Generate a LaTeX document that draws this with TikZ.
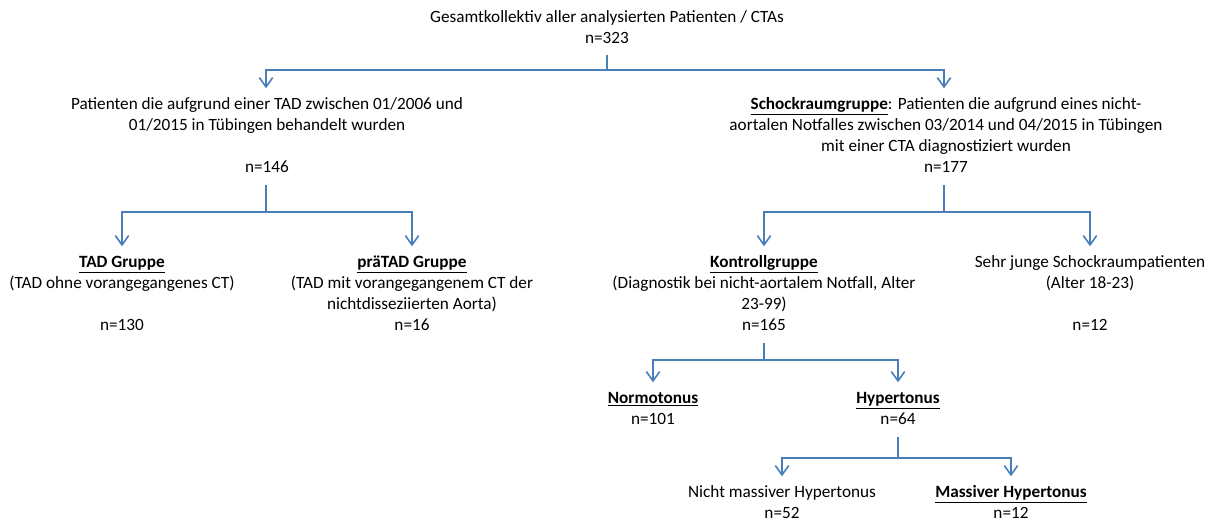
\documentclass[tikz,border=0pt]{standalone}
\usepackage{fontspec}
\setmainfont{Carlito}
\usetikzlibrary{arrows.meta}
\definecolor{lineblue}{HTML}{4A7EBB}
\newcommand{\bu}[1]{\underline{\textbf{#1}}}
\begin{document}
\begin{tikzpicture}[x=0.75pt,y=-0.75pt,
  txt/.style={anchor=north,inner sep=0pt,align=center,font=\fontsize{12.9}{15.75}\selectfont},
  conn/.style={draw=lineblue,line width=1.2pt},
  arr/.style={conn,-{Straight Barb[length=7pt,width=10pt]},shorten >=4.5pt}]
\useasboundingbox (0,0) rectangle (1215,521);

% nodes (north = first line centre - 9.7px)
\node[txt] (top) at (607,7.3) {\strut Gesamtkollektiv aller analysierten Patienten / CTAs\\ n=323};
\node[txt] (tadall) at (267,94.3) {\strut Patienten die aufgrund einer TAD zwischen 01/2006 und\\ 01/2015 in Tübingen behandelt wurden\\ \strut\\ n=146};
\node[txt] (schock) at (946,94.3) {\strut\bu{Schockraumgruppe}: Patienten die aufgrund eines nicht-\\ aortalen Notfalles zwischen 03/2014 und 04/2015 in Tübingen\\ mit einer CTA diagnostiziert wurden\\ n=177};
\node[txt] (tad) at (122,252.3) {\strut\bu{TAD Gruppe}\\ (TAD ohne vorangegangenes CT)\\ \strut\\ n=130};
\node[txt] (pretad) at (412,252.3) {\strut\bu{präTAD Gruppe}\\ (TAD mit vorangegangenem CT der\\ nichtdisseziierten Aorta)\\ n=16};
\node[txt] (kontroll) at (764,252.3) {\strut\bu{Kontrollgruppe}\\ (Diagnostik bei nicht-aortalem Notfall, Alter\\ 23-99)\\ n=165};
\node[txt] (jung) at (1090,252.3) {\strut Sehr junge Schockraumpatienten\\ (Alter 18-23)\\ \strut\\ n=12};
\node[txt] (normo) at (653,388.3) {\strut\bu{Normotonus}\\ n=101};
\node[txt] (hyper) at (898,388.3) {\strut\bu{Hypertonus}\\ n=64};
\node[txt] (nicht) at (782,482.3) {\strut Nicht massiver Hypertonus\\ n=52};
\node[txt] (massiv) at (1011,482.3) {\strut\bu{Massiver Hypertonus}\\ n=12};

% junctions
\coordinate (j0) at (607,70);
\coordinate (j1) at (266,212);
\coordinate (j2) at (944,212);
\coordinate (j3) at (764,360);
\coordinate (j4) at (898,458);

% connectors
\draw[conn] (j0 |- 0,55) -- (j0);
\draw[arr] (j0) -| (266,94.3);
\draw[arr] (j0) -| (944,94.3);

\draw[conn] (j1 |- 0,185) -- (j1);
\draw[arr] (j1) -| (tad.north);
\draw[arr] (j1) -| (pretad.north);

\draw[conn] (j2 |- 0,185) -- (j2);
\draw[arr] (j2) -| (kontroll.north);
\draw[arr] (j2) -| (jung.north);

\draw[conn] (j3 |- 0,343) -- (j3);
\draw[arr] (j3) -| (normo.north);
\draw[arr] (j3) -| (hyper.north);

\draw[conn] (j4 |- 0,437) -- (j4);
\draw[arr] (j4) -| (nicht.north);
\draw[arr] (j4) -| (massiv.north);
\end{tikzpicture}
\end{document}
